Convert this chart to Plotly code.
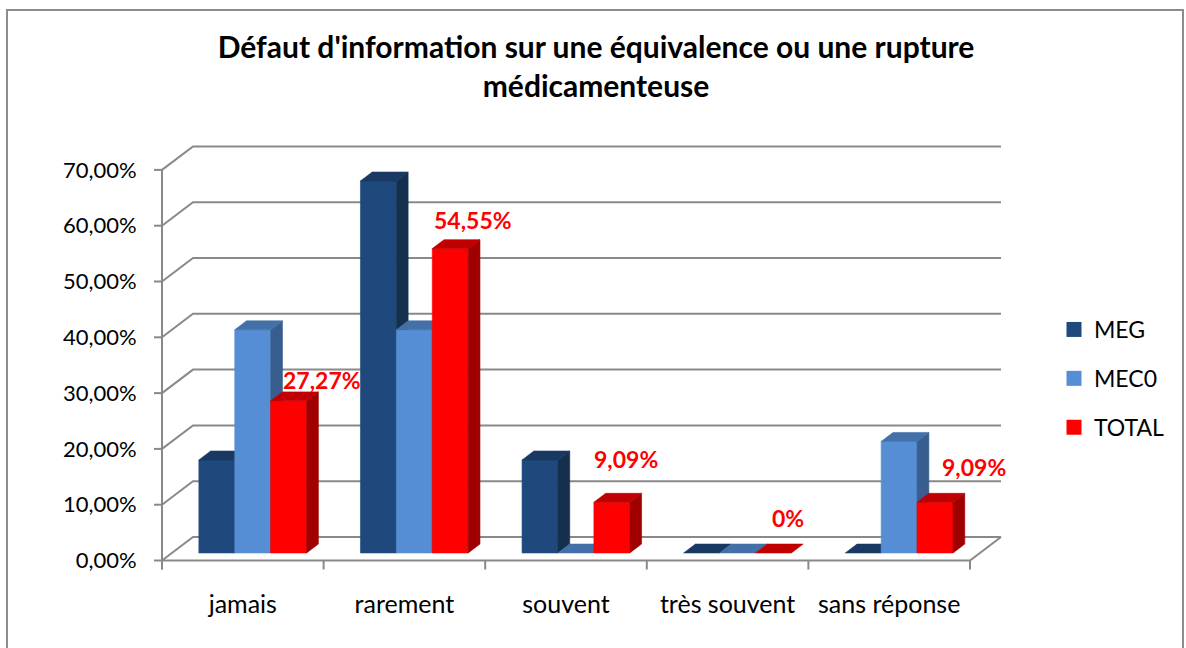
import plotly.graph_objects as go

# ---- data ----
categories = ["jamais", "rarement", "souvent", "très souvent", "sans réponse"]
meg = [16.67, 66.67, 16.67, 0, 0]
mec0 = [40.0, 40.0, 0, 0, 20.0]
total = [27.27, 54.55, 9.09, 0, 9.09]
y_ticks = [0, 10, 20, 30, 40, 50, 60, 70]
y_tick_labels = ["0,00%", "10,00%", "20,00%", "30,00%", "40,00%", "50,00%", "60,00%", "70,00%"]
series_names = ["MEG", "MEC0", "TOTAL"]

# ---- styling ----
FONT = "Lato"
GRID = "#898989"
face_colors = {
    "MEG": ("#1F497D", "#1A3962", "#15304F"),   # front, top, side
    "MEC0": ("#558ED5", "#4370A7", "#385E8F"),
    "TOTAL": ("#FF0000", "#C00000", "#A00000"),
}

# ---- pixel geometry of the 3-D box ----
W, H = 1186, 648
PL, PR, PT, PB = 150, 1010, 140, 576      # plot area (px)
X0 = 162.0                               # front value axis (px)
CAT = 161.6                              # width of one category (px)
Y0 = 560.5                               # 0 % on the front plane (px)
PCT = 5.58                               # px per percent
x_range = [(PL - X0) / CAT, (PR - X0) / CAT]
y_range = [(Y0 - PB) / PCT, (Y0 - PT) / PCT]

DEPTH_X = 31.0 / CAT                     # floor depth, in category units
DEPTH_Y = 23.5 / PCT                     # floor depth, in percent units
F_FRONT, F_BACK = 0.32, 0.70             # depth slice occupied by the columns
BAR_W = 1 / 4.5                          # gap width 150 %
GAP = 0.75 * BAR_W

n_cat = len(categories)
top_val = y_ticks[-1]

fig = go.Figure()

# walls and floor outline
wx, wy = [], []
for v in y_ticks:
    wx += [0, DEPTH_X, n_cat + DEPTH_X, None]
    wy += [v, v + DEPTH_Y, v + DEPTH_Y, None]
wx += [0, n_cat, n_cat + DEPTH_X, None]
wy += [0, 0, DEPTH_Y, None]
fig.add_trace(go.Scatter(x=wx, y=wy, mode="lines", line=dict(color=GRID, width=2),
                         hoverinfo="skip", showlegend=False))

# front value axis with its ticks, and category ticks
ax, ay = [0, 0, None], [-9 / PCT, top_val, None]
for v in y_ticks:
    ax += [-8 / CAT, 0, None]
    ay += [v, v, None]
for i in range(n_cat + 1):
    ax += [i, i, None]
    ay += [0, -9 / PCT, None]
fig.add_trace(go.Scatter(x=ax, y=ay, mode="lines", line=dict(color=GRID, width=2),
                         hoverinfo="skip", showlegend=False))


def poly(xs, ys, color):
    fig.add_trace(go.Scatter(
        x=xs + [xs[0]], y=ys + [ys[0]], mode="lines", fill="toself",
        fillcolor=color, line=dict(color=color, width=0.6),
        hoverinfo="skip", showlegend=False))


values = {"MEG": meg, "MEC0": mec0, "TOTAL": total}
ddx = (F_BACK - F_FRONT) * DEPTH_X
ddy = (F_BACK - F_FRONT) * DEPTH_Y
yb = F_FRONT * DEPTH_Y
for i in range(n_cat):
    for s, name in enumerate(series_names):
        v = values[name][i]
        front, top, side = face_colors[name]
        xl = i + F_FRONT * DEPTH_X + GAP + s * BAR_W
        xr = xl + BAR_W
        yt = yb + v
        if v > 0:
            poly([xl, xr, xr, xl], [yb, yb, yt, yt], front)
            poly([xr, xr + ddx, xr + ddx, xr], [yb, yb + ddy, yt + ddy, yt], side)
        poly([xl, xr, xr + ddx, xl + ddx], [yt, yt, yt + ddy, yt + ddy], top)

# legend entries
for g, name in enumerate(series_names):
    fig.add_trace(go.Scatter(
        x=[None], y=[None], mode="markers", name=name, legendgroup=str(g),
        marker=dict(symbol="square", size=15, color=face_colors[name][0])))

# value labels on the TOTAL series
label_shift = [(27, 16), (17, 24), (8, 39), (9, 31), (33, 31)]
for i, v in enumerate(total):
    txt = "0%" if v == 0 else f"{v:.2f}".replace(".", ",") + "%"
    xc = i + F_FRONT * DEPTH_X + GAP + 2.5 * BAR_W + ddx / 2
    yc = yb + v + ddy / 2
    dx, dy = label_shift[i]
    fig.add_annotation(x=xc, y=yc, text=f"<b>{txt}</b>", showarrow=False,
                       xanchor="center", yanchor="middle", xshift=dx, yshift=dy,
                       font=dict(family=FONT, size=23, color="#FF0000"))

# outer chart frame
pw, ph = PR - PL, PB - PT
fig.add_shape(type="rect", xref="paper", yref="paper",
              x0=(7 - PL) / pw, x1=(1183 - PL) / pw,
              y0=(PB - 660) / ph, y1=(PB - 10) / ph,
              line=dict(color="#8C8C8C", width=2), fillcolor="rgba(0,0,0,0)")

fig.update_layout(
    width=W, height=H,
    margin=dict(l=PL, r=W - PR, t=PT, b=H - PB),
    paper_bgcolor="white", plot_bgcolor="white",
    font=dict(family=FONT, color="black"),
    title=dict(text="<b>Défaut d'information sur une équivalence ou une rupture<br>médicamenteuse</b>",
               x=596 / W, xanchor="center", y=1 - 58 / H, yanchor="top",
               font=dict(family=FONT, size=30, color="black")),
    xaxis=dict(range=x_range, showgrid=False, zeroline=False, showline=False,
               tickvals=[i + 0.5 for i in range(n_cat)], ticktext=categories,
               ticks="outside", ticklen=6, tickcolor="rgba(0,0,0,0)",
               tickfont=dict(family=FONT, size=25, color="black"), fixedrange=True),
    yaxis=dict(range=y_range, showgrid=False, zeroline=False, showline=False,
               tickvals=y_ticks, ticktext=y_tick_labels,
               ticks="outside", ticklen=8, tickcolor="rgba(0,0,0,0)",
               tickfont=dict(family=FONT, size=22, color="black"), fixedrange=True),
    legend=dict(x=(1054 - PL) / pw, xanchor="left", y=(PB - 308) / ph, yanchor="top",
                font=dict(family=FONT, size=23, color="black"), tracegroupgap=16,
                bgcolor="rgba(0,0,0,0)"),
    showlegend=True,
)

fig.write_html("out.html")
